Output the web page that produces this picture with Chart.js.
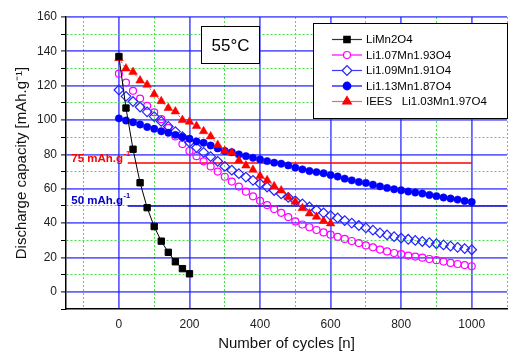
<!DOCTYPE html>
<html>
<head>
<meta charset="utf-8">
<script src="https://cdn.jsdelivr.net/npm/chart.js@4.4.1/dist/chart.umd.min.js"></script>
<style>
  html, body { margin: 0; padding: 0; background: #fff; }
</style>
</head>
<body>
<canvas id="myChart" width="515" height="354"></canvas>
<script>
        // ---- data -------------------------------------------------------------------------
        var cyclesLiMn = [0, 20, 40, 60, 80, 100, 120, 140, 160, 180, 200]
        var capLiMn2O4 = [137, 107, 83, 63.5, 49, 38, 29.5, 23, 17.5, 13.5, 10.5]

        var cyclesIEES = [0, 20, 40, 60, 80, 100, 120, 140, 160, 180, 200, 220, 240, 260, 280, 300,
            320, 340, 360, 380, 400, 420, 440, 460, 480, 500, 520, 540, 560, 580, 600]
        var capIEES = [136, 130, 128, 123, 120.5, 115, 111, 107, 105, 100, 99, 96.5, 93.5, 90.5, 85.5, 82,
            81, 76.5, 73.5, 71, 67.5, 65, 61.5, 59, 55, 52.5, 48.7, 45.6, 43.7, 41.3, 39.8]

        var cyclesLong = [0, 20, 40, 60, 80, 100, 120, 140, 160, 180, 200, 220, 240, 260, 280, 300, 320, 340,
            360, 380, 400, 420, 440, 460, 480, 500, 520, 540, 560, 580, 600, 620, 640, 660, 680, 700, 720, 740,
            760, 780, 800, 820, 840, 860, 880, 900, 920, 940, 960, 980, 1000]
        var capLi107 = [127, 121.8, 117, 112.5, 108.3, 104.5, 100.5, 95.5, 90.5, 86, 82, 79, 76, 73, 70, 67, 64.2, 61.3,
            58.3, 55.6, 53, 50.5, 48.2, 46, 43.5, 41, 39.2, 37.6, 36, 34.6, 33.3, 32, 30.8, 29.6, 28.4, 27, 25.9, 24.6,
            23.5, 22.6, 22, 21.1, 20.5, 19.9, 19.1, 18.4, 17.6, 16.8, 16.2, 15.6, 14.9]
        var capLi109 = [117.5, 113.8, 110.8, 107.6, 104.8, 102, 99.2, 96.3, 93.3, 90.3, 87, 84, 81.2, 78.7, 76, 73, 70.8, 68.8,
            66.8, 64.9, 63, 61, 59, 57, 55, 53, 51.2, 49.4, 47.6, 46, 44.4, 43, 41.5, 40, 38.6, 37.2, 35.9, 34.3,
            33.1, 32.1, 31.3, 30.6, 29.9, 29.3, 28.6, 28, 27.3, 26.6, 25.9, 25.2, 24.5]
        var capLi113 = [101, 99.7, 98.7, 97.4, 96, 94.9, 93.5, 92.6, 91.4, 90.2, 89.1, 87.5, 86.8, 85.2, 83.5, 82, 81.3, 80,
            79, 78, 77.1, 76.1, 75.2, 74.6, 73.6, 72.3, 71.3, 70.3, 69.7, 69, 68, 67.1, 65.9, 64.9, 63.9, 63.4, 62.4, 61.4,
            60.5, 59.7, 59.1, 58.4, 57.8, 57.2, 56.4, 55.7, 54.9, 54.3, 53.7, 52.9, 52.3]

        var legendNames = ['LiMn2O4', 'Li1.07Mn1.93O4', 'Li1.09Mn1.91O4', 'Li1.13Mn1.87O4', 'IEES   Li1.03Mn1.97O4']
        var refLevels = [75, 50]
        var refLabels = ['75 mAh.g', '50 mAh.g']
        var refStart = [25, 25]
        var refEnd = [1000, 1100]
        var xTickValues = [-100, 0, 100, 200, 300, 400, 500, 600, 700, 800, 900, 1000, 1100]
        var yTickValues = [-10, 0, 10, 20, 30, 40, 50, 60, 70, 80, 90, 100, 110, 120, 130, 140, 150, 160]
        var tempLabel = '55\u00B0C'

        function pts(xs, ys) {
            return xs.map(function (x, i) { return { x: x, y: ys[i] } })
        }

        var refColors = ['#ff0000', '#0000c8']
        var majorBlue = 'rgba(25,25,255,0.68)'
        var minorGreen = 'rgba(60,225,60,0.95)'

        // legend sample styles (line colour + marker)
        var legendStyles = [
            { line: '#333333', pointStyle: 'rect', radius: 4.5, fill: '#000000', stroke: '#000000' },
            { line: '#ff00ff', pointStyle: 'circle', radius: 3.5, fill: '#ffffff', stroke: '#ff00ff' },
            { line: '#3a3aff', pointStyle: 'rectRot', radius: 4.8, fill: '#ffffff', stroke: '#2424ff' },
            { line: '#0000ff', pointStyle: 'circle', radius: 3.8, fill: '#0000ff', stroke: '#0000ff' },
            { line: '#ff6060', pointStyle: 'triangle', radius: 5, fill: '#ff0000', stroke: '#ff0000' }
        ]

        var extras = {
            id: 'extras',
            afterDraw: function (chart) {
                var ctx = chart.ctx
                var xs = chart.scales.x
                var ys = chart.scales.y
                ctx.save()

                // reference level labels
                refLevels.forEach(function (lv, i) {
                    var x0 = xs.getPixelForValue(-135)
                    var y0 = ys.getPixelForValue(lv) - 1.5
                    ctx.fillStyle = refColors[i]
                    ctx.font = 'bold 11.5px "Liberation Sans", Arial, sans-serif'
                    ctx.textAlign = 'left'
                    ctx.textBaseline = 'alphabetic'
                    ctx.fillText(refLabels[i], x0, y0)
                    var w = ctx.measureText(refLabels[i]).width
                    ctx.font = 'bold 7.5px "Liberation Sans", Arial, sans-serif'
                    ctx.fillText('-1', x0 + w + 0.5, y0 - 6)
                })

                // temperature box
                ctx.fillStyle = '#fff'
                ctx.fillRect(201.5, 26.5, 58, 37)
                ctx.strokeStyle = '#000'
                ctx.lineWidth = 1
                ctx.strokeRect(201.5, 26.5, 58, 37)
                ctx.fillStyle = '#000'
                ctx.font = '17px "Liberation Sans", Arial, sans-serif'
                ctx.textAlign = 'center'
                ctx.textBaseline = 'middle'
                ctx.fillText(tempLabel, 230.5, 46)

                // legend box
                ctx.fillStyle = '#fff'
                ctx.fillRect(313.5, 23.5, 194, 95)
                ctx.strokeStyle = '#000'
                ctx.strokeRect(313.5, 23.5, 194, 95)
                legendNames.forEach(function (name, i) {
                    var st = legendStyles[i]
                    var y = 39.5 + i * 15.5
                    ctx.strokeStyle = st.line
                    ctx.lineWidth = 1.2
                    ctx.beginPath()
                    ctx.moveTo(332, y)
                    ctx.lineTo(362, y)
                    ctx.stroke()
                    ctx.fillStyle = st.fill
                    ctx.strokeStyle = st.stroke
                    ctx.lineWidth = 1.2
                    Chart.helpers.drawPoint(ctx, { pointStyle: st.pointStyle, radius: st.radius, rotation: 0, borderWidth: 1.2 }, 347, y)
                    ctx.fillStyle = '#000'
                    ctx.font = '11.5px "Liberation Sans", Arial, sans-serif'
                    ctx.textAlign = 'left'
                    ctx.textBaseline = 'middle'
                    ctx.fillText(name, 366, y + 0.5)
                })
                ctx.restore()
            }
        }

        function isMajorX(v) { return v % 200 === 0 }
        function isMajorY(v) { return v % 20 === 0 }

        var ctx = document.getElementById('myChart').getContext('2d')
        var chart = new Chart(ctx, {
            type: 'scatter',
            data: {
                datasets: [
                    {
                        label: legendNames[0],
                        data: pts(cyclesLiMn, capLiMn2O4),
                        showLine: true,
                        borderColor: '#000',
                        borderWidth: 1,
                        backgroundColor: '#000',
                        pointStyle: 'rect',
                        pointRadius: 4.5,
                        pointBorderWidth: 1,
                        order: 0
                    },
                    {
                        label: legendNames[4],
                        data: pts(cyclesIEES, capIEES),
                        showLine: true,
                        borderColor: '#ff4040',
                        borderWidth: 1,
                        borderDash: [2, 2],
                        pointBackgroundColor: '#ff0000',
                        pointBorderColor: '#ff0000',
                        pointStyle: 'triangle',
                        pointRadius: 5,
                        pointBorderWidth: 0.5,
                        order: 1
                    },
                    {
                        label: legendNames[3],
                        data: pts(cyclesLong, capLi113),
                        showLine: false,
                        pointBackgroundColor: '#0000ff',
                        pointBorderColor: '#0000ff',
                        pointStyle: 'circle',
                        pointRadius: 3.7,
                        pointBorderWidth: 0.5,
                        order: 2
                    },
                    {
                        label: legendNames[2],
                        data: pts(cyclesLong, capLi109),
                        showLine: false,
                        pointBackgroundColor: 'rgba(0,0,0,0)',
                        pointBorderColor: '#2424ff',
                        pointStyle: 'rectRot',
                        pointRadius: 4.8,
                        pointBorderWidth: 1.2,
                        order: 3
                    },
                    {
                        label: legendNames[1],
                        data: pts(cyclesLong, capLi107),
                        showLine: false,
                        pointBackgroundColor: 'rgba(0,0,0,0)',
                        pointBorderColor: '#ff00ff',
                        pointStyle: 'circle',
                        pointRadius: 3.5,
                        pointBorderWidth: 1.2,
                        order: 4
                    },
                    {
                        label: 'ref75',
                        data: [{ x: refStart[0], y: refLevels[0] }, { x: refEnd[0], y: refLevels[0] }],
                        showLine: true,
                        borderColor: refColors[0],
                        borderWidth: 1.5,
                        pointRadius: 0,
                        order: 10
                    },
                    {
                        label: 'ref50',
                        data: [{ x: refStart[1], y: refLevels[1] }, { x: refEnd[1], y: refLevels[1] }],
                        showLine: true,
                        borderColor: refColors[1],
                        borderWidth: 1.5,
                        pointRadius: 0,
                        order: 10
                    }
                ]
            },
            options: {
                responsive: false,
                animation: false,
                devicePixelRatio: 1,
                events: [],
                layout: { padding: { top: 17, right: 0, left: 0, bottom: 0 } },
                scales: {
                    x: {
                        type: 'linear',
                        min: -150,
                        max: 1100,
                        afterBuildTicks: function (s) { s.ticks = xTickValues.map(function (v) { return { value: v } }) },
                        afterFit: function (s) { s.height = 45 },
                        ticks: {
                            autoSkip: false,
                            maxRotation: 0,
                            padding: 8,
                            color: '#222',
                            font: { family: '"Liberation Sans", Arial, sans-serif', size: 12 },
                            callback: function (v) { return (isMajorX(v) && v >= 0 && v <= 1000) ? String(v) : '' }
                        },
                        grid: {
                            drawTicks: false,
                            color: function (c) {
                                if (!c.tick) return 'transparent'
                                return isMajorX(c.tick.value) ? majorBlue : minorGreen
                            },
                            lineWidth: function (c) { return c.tick && isMajorX(c.tick.value) ? 1.8 : 1 }
                        },
                        border: {
                            color: '#000',
                            width: 1.5,
                            dash: function (c) { return (c.tick && !isMajorX(c.tick.value)) ? [2, 2] : [] }
                        },
                        title: {
                            display: true,
                            text: 'Number of cycles [n]',
                            color: '#111',
                            font: { family: '"Liberation Sans", Arial, sans-serif', size: 15 },
                            padding: { top: 1, bottom: 1 }
                        }
                    },
                    y: {
                        min: -10,
                        max: 160,
                        afterBuildTicks: function (s) { s.ticks = yTickValues.map(function (v) { return { value: v } }) },
                        afterFit: function (s) { s.width = 66 },
                        ticks: {
                            autoSkip: false,
                            padding: 4,
                            color: '#222',
                            font: { family: '"Liberation Sans", Arial, sans-serif', size: 12 },
                            callback: function (v) { return (isMajorY(v) && v >= 0) ? String(v) : '' }
                        },
                        grid: {
                            drawTicks: true,
                            tickLength: 5,
                            tickColor: '#000',
                            tickWidth: 1,
                            color: function (c) {
                                if (!c.tick || c.tick.value === -10) return 'transparent'
                                return isMajorY(c.tick.value) ? majorBlue : minorGreen
                            },
                            lineWidth: function (c) { return c.tick && isMajorY(c.tick.value) ? 1.8 : 1 }
                        },
                        border: {
                            color: '#000',
                            width: 1.5,
                            dash: function (c) { return (c.tick && !isMajorY(c.tick.value)) ? [2, 2] : [] }
                        },
                        title: {
                            display: true,
                            text: 'Discharge capacity [mAh.g\u207B\u00B9]',
                            color: '#111',
                            font: { family: '"Liberation Sans", Arial, sans-serif', size: 15 },
                            padding: { top: 13, bottom: 0 }
                        }
                    }
                },
                plugins: {
                    legend: { display: false },
                    tooltip: { enabled: false }
                }
            },
            plugins: [extras]
        });
</script>
</body>
</html>
